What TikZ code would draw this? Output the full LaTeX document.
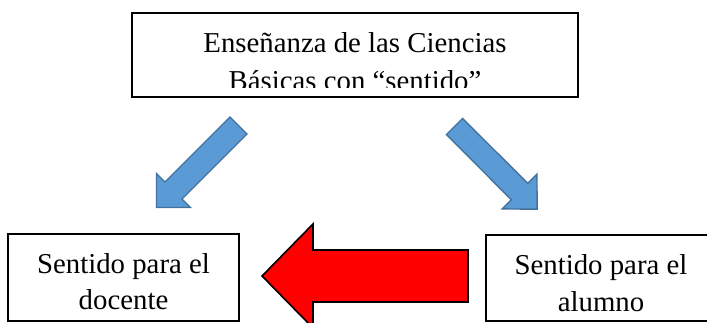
\documentclass[tikz,border=0pt]{standalone}
\usepackage{fontspec}
\setmainfont{Liberation Serif}
\begin{document}
\begin{tikzpicture}[x=1pt,y=-1pt,
  boxstyle/.style={draw=black,line width=1.3pt,inner sep=0pt},
  txt/.style={anchor=base,inner sep=0pt,font=\fontsize{28.8}{34}\selectfont},
  bluearrow/.style={fill={rgb,255:red,91;green,155;blue,213},draw={rgb,255:red,65;green,113;blue,156},line width=1.4pt,line join=miter},
  redarrow/.style={fill={rgb,255:red,255;green,0;blue,0},draw=black,line width=1.6pt,line join=miter}]
\useasboundingbox (0,0) rectangle (707,323);
\clip (0,0) rectangle (707,323);
% boxes
\draw[boxstyle] (132,13) rectangle (578,97);
\draw[boxstyle] (8,234) rectangle (239,321);
\draw[boxstyle] (486,235) rectangle (716,321);
% top text (clipped at bottom as in the reference)
\begin{scope}
\clip (133,14) rectangle (577,88);
\node[txt] (t1) at (355,53) {Enseñanza de las Ciencias};
\node[txt] (t2) at (355,91) {Básicas con “sentido”};
\end{scope}
\node[txt] (d1) at (123.5,273) {Sentido para el};
\node[txt] (d2) at (123.5,309) {docente};
\node[txt] (a1) at (601,275) {Sentido para el};
\node[txt] (a2) at (601,311) {alumno};
% blue arrows
\draw[bluearrow] (230,117) -- (247,134) -- (182,199) -- (190.5,207.5) -- (156.5,207.5) -- (156.5,173.5) -- (165,182) -- cycle;
\draw[bluearrow] (446.4,134.6) -- (462.6,118.4) -- (527.7,183.4) -- (536.9,174.2) -- (537.2,209.2) -- (502.2,208.9) -- (511.4,199.7) -- cycle;
% red arrow
\draw[redarrow] (468,250) -- (313,250) -- (313,224) -- (262,276) -- (313,328) -- (313,302) -- (468,302) -- cycle;
\end{tikzpicture}
\end{document}
